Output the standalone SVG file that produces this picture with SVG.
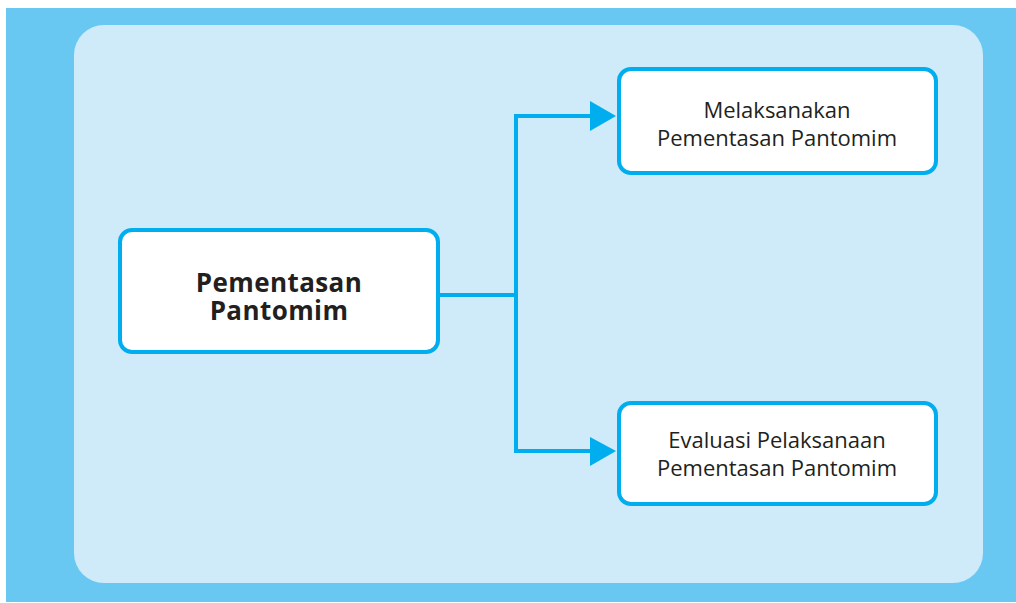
<svg xmlns="http://www.w3.org/2000/svg" width="1016" height="603" viewBox="0 0 1016 603">
<style>
.node{fill:#ffffff;stroke:#00AEEF;stroke-width:4}
.t{font-family:"Open Sans","Noto Sans",sans-serif;fill:#231F20;text-anchor:middle}
.b{font-weight:bold;font-size:26px;letter-spacing:0.4px}
.r{font-size:22px}
.c{fill:none;stroke:#00AEEF;stroke-width:4}
.ah{fill:#00AEEF}
</style>
<rect x="6" y="8" width="1010" height="594" fill="#69C8F2"/>
<rect x="74" y="25" width="909" height="558" rx="30" fill="#CFEAF8"/>
<g id="connectors">
<polyline class="c" points="440,295 516,295"/>
<polyline class="c" points="590,116 516,116 516,451 590,451"/>
<polygon class="ah" points="590,101 616,116 590,131"/>
<polygon class="ah" points="590,437 616,451 590,466"/>
</g>
<g id="main">
<rect class="node" x="120" y="230" width="318" height="122" rx="12"/>
<text class="t b" x="279" y="292">Pementasan</text>
<text class="t b" x="279" y="320">Pantomim</text>
</g>
<g id="melaksanakan">
<rect class="node" x="619" y="69" width="317" height="104" rx="12"/>
<text class="t r" x="777" y="118">Melaksanakan</text>
<text class="t r" x="777" y="146">Pementasan Pantomim</text>
</g>
<g id="evaluasi">
<rect class="node" x="619" y="403" width="317" height="101" rx="12"/>
<text class="t r" x="777" y="448">Evaluasi Pelaksanaan</text>
<text class="t r" x="777" y="476">Pementasan Pantomim</text>
</g>
</svg>
